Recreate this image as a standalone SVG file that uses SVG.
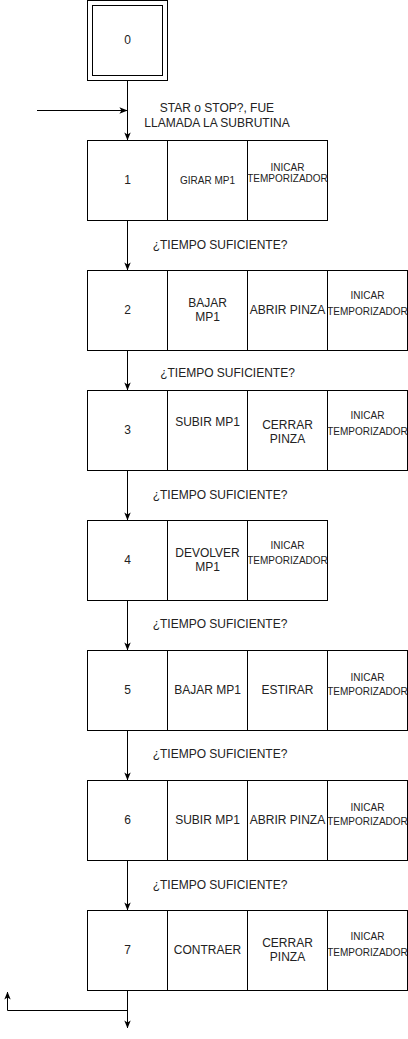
<svg xmlns="http://www.w3.org/2000/svg" width="408" height="1039" viewBox="0 0 408 1039">
<style>
.b{fill:#fff;stroke:#000;stroke-width:1}
text{font-family:"Liberation Sans",Arial,Helvetica,sans-serif;fill:#222;text-anchor:middle}
.n{font-size:12px}
.s{font-size:10px}
.c{fill:none;stroke:#000;stroke-width:1;marker-end:url(#ah)}
</style>
<defs>
<marker id="ah" viewBox="0 0 10 10" refX="9.5" refY="5" markerWidth="8" markerHeight="8" markerUnits="userSpaceOnUse" orient="auto">
<path d="M0,1 L10,5 L0,9 L2.5,5 z" fill="#000"/>
</marker>
</defs>
<g id="connectors">
<path class="c" d="M127.5,80.5 V140"/>
<path class="c" d="M37,110.5 H127"/>
<path class="c" d="M127.5,220.5 V270"/>
<path class="c" d="M127.5,350.5 V390"/>
<path class="c" d="M127.5,470.5 V520"/>
<path class="c" d="M127.5,600.5 V650"/>
<path class="c" d="M127.5,730.5 V780"/>
<path class="c" d="M127.5,860.5 V910"/>
<path class="c" d="M127.5,990.5 V1028"/>
<path class="c" d="M127.5,1010.5 H7.5 V992"/>
<text class="n" x="217" y="112">STAR o STOP?, FUE</text>
<text class="n" x="217" y="126.5">LLAMADA LA SUBRUTINA</text>
<text class="n" x="220" y="249">¿TIEMPO SUFICIENTE?</text>
<text class="n" x="227.5" y="377">¿TIEMPO SUFICIENTE?</text>
<text class="n" x="220" y="499">¿TIEMPO SUFICIENTE?</text>
<text class="n" x="220" y="628">¿TIEMPO SUFICIENTE?</text>
<text class="n" x="220" y="758">¿TIEMPO SUFICIENTE?</text>
<text class="n" x="220" y="889">¿TIEMPO SUFICIENTE?</text>
</g>
<g id="step0">
<rect class="b" x="87.5" y="0.5" width="80" height="80"/>
<rect class="b" x="92.5" y="5.5" width="70" height="70"/>
<text class="n" x="127.5" y="44">0</text>
</g>
<g id="step1">
<rect class="b" x="87.5" y="140.5" width="80" height="80"/>
<rect class="b" x="167.5" y="140.5" width="80" height="80"/>
<rect class="b" x="247.5" y="140.5" width="80" height="80"/>
<text class="n" x="127.5" y="184">1</text>
<text class="s" x="207.5" y="183.5">GIRAR MP1</text>
<text class="s" x="287.5" y="170.5">INICAR</text>
<text class="s" x="287.5" y="181.5">TEMPORIZADOR</text>
</g>
<g id="step2">
<rect class="b" x="87.5" y="270.5" width="80" height="80"/>
<rect class="b" x="167.5" y="270.5" width="80" height="80"/>
<rect class="b" x="247.5" y="270.5" width="80" height="80"/>
<rect class="b" x="327.5" y="270.5" width="80" height="80"/>
<text class="n" x="127.5" y="314">2</text>
<text class="n" x="207.5" y="307">BAJAR</text>
<text class="n" x="207.5" y="321">MP1</text>
<text class="n" x="287.5" y="314">ABRIR PINZA</text>
<text class="s" x="367.5" y="298.5">INICAR</text>
<text class="s" x="367.5" y="314.5">TEMPORIZADOR</text>
</g>
<g id="step3">
<rect class="b" x="87.5" y="390.5" width="80" height="80"/>
<rect class="b" x="167.5" y="390.5" width="80" height="80"/>
<rect class="b" x="247.5" y="390.5" width="80" height="80"/>
<rect class="b" x="327.5" y="390.5" width="80" height="80"/>
<text class="n" x="127.5" y="434">3</text>
<text class="n" x="207.5" y="426">SUBIR MP1</text>
<text class="n" x="287.5" y="429">CERRAR</text>
<text class="n" x="287.5" y="443">PINZA</text>
<text class="s" x="367.5" y="418.5">INICAR</text>
<text class="s" x="367.5" y="434.5">TEMPORIZADOR</text>
</g>
<g id="step4">
<rect class="b" x="87.5" y="520.5" width="80" height="80"/>
<rect class="b" x="167.5" y="520.5" width="80" height="80"/>
<rect class="b" x="247.5" y="520.5" width="80" height="80"/>
<text class="n" x="127.5" y="564">4</text>
<text class="n" x="207.5" y="557">DEVOLVER</text>
<text class="n" x="207.5" y="571">MP1</text>
<text class="s" x="287.5" y="548.5">INICAR</text>
<text class="s" x="287.5" y="563.5">TEMPORIZADOR</text>
</g>
<g id="step5">
<rect class="b" x="87.5" y="650.5" width="80" height="80"/>
<rect class="b" x="167.5" y="650.5" width="80" height="80"/>
<rect class="b" x="247.5" y="650.5" width="80" height="80"/>
<rect class="b" x="327.5" y="650.5" width="80" height="80"/>
<text class="n" x="127.5" y="694">5</text>
<text class="n" x="207.5" y="694">BAJAR MP1</text>
<text class="n" x="287.5" y="694">ESTIRAR</text>
<text class="s" x="367.5" y="680.5">INICAR</text>
<text class="s" x="367.5" y="694.5">TEMPORIZADOR</text>
</g>
<g id="step6">
<rect class="b" x="87.5" y="780.5" width="80" height="80"/>
<rect class="b" x="167.5" y="780.5" width="80" height="80"/>
<rect class="b" x="247.5" y="780.5" width="80" height="80"/>
<rect class="b" x="327.5" y="780.5" width="80" height="80"/>
<text class="n" x="127.5" y="824">6</text>
<text class="n" x="207.5" y="824">SUBIR MP1</text>
<text class="n" x="287.5" y="824">ABRIR PINZA</text>
<text class="s" x="367.5" y="810.5">INICAR</text>
<text class="s" x="367.5" y="824.5">TEMPORIZADOR</text>
</g>
<g id="step7">
<rect class="b" x="87.5" y="910.5" width="80" height="80"/>
<rect class="b" x="167.5" y="910.5" width="80" height="80"/>
<rect class="b" x="247.5" y="910.5" width="80" height="80"/>
<rect class="b" x="327.5" y="910.5" width="80" height="80"/>
<text class="n" x="127.5" y="954">7</text>
<text class="n" x="207.5" y="954">CONTRAER</text>
<text class="n" x="287.5" y="947">CERRAR</text>
<text class="n" x="287.5" y="961">PINZA</text>
<text class="s" x="367.5" y="939.5">INICAR</text>
<text class="s" x="367.5" y="955.5">TEMPORIZADOR</text>
</g>
</svg>
